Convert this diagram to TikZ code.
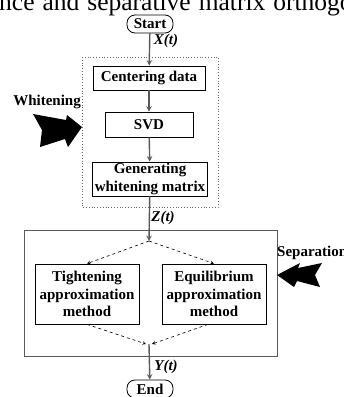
\documentclass[tikz,border=0pt]{standalone}
\usepackage{fontspec}
\setmainfont{Liberation Serif}
\usepackage{tikz}

\tikzset{
  block/.style={draw=black, line width=0.8pt, fill=white, align=center, inner sep=0pt,
    font=\fontsize{15}{17.5}\selectfont\bfseries},
  term/.style={block, rounded corners=8pt, minimum width=46pt, minimum height=18pt},
  tlabel/.style={inner sep=0pt, font=\fontsize{15}{17}\selectfont\bfseries\itshape},
  side/.style={inner sep=0pt, font=\fontsize{15}{17}\selectfont\bfseries},
  flow/.style={->, >=stealth, draw=black!65, line width=1.4pt},
  dflow/.style={->, >=stealth, draw=black, dashed, line width=0.6pt}
}

\begin{document}
\begin{tikzpicture}[x=1pt, y=-1pt]
\useasboundingbox (0,0) rectangle (344,397);
\clip (0,0) rectangle (344,397);
% line of the page above the figure
\node [anchor=base west, inner sep=0pt, font=\fontsize{25.5}{26}\selectfont] (pageline) at (-1,10) {\spaceskip=8pt nce and separative matrix orthogo};

% stage frames
\draw [dotted, draw=black!60, line width=0.8pt] (82,57) rectangle (218,207);
\draw [draw=black!65, line width=0.8pt] (24,230) rectangle (277,356);

\node [term] (start) at (150,24) {Start};
\node [block, minimum width=112pt, minimum height=24pt] (center) at (149,78) {Centering data};
\node [block, minimum width=88pt, minimum height=25pt] (svd) at (149,124.5) {SVD};
\node [block, minimum width=115pt, minimum height=34pt] (gen) at (150,179) {Generating\\whitening matrix};
\coordinate (split) at (149,241);
\node [block, minimum width=104pt, minimum height=60pt] (tight) at (87,294) {Tightening\\approximation\\method};
\node [block, minimum width=104pt, minimum height=60pt] (equi) at (214,294) {Equilibrium\\approximation\\method};
\coordinate (merge) at (149,344);
\node [term] (end) at (150,389) {End};

\node [tlabel] (xt) at (166,41) {X(t)};
\node [tlabel] (zt) at (163,218) {Z(t)};
\node [tlabel] (yt) at (166,367) {Y(t)};

\draw [flow] (start) -- (center);
\draw [flow] (center) -- (svd);
\draw [flow] (svd) -- (gen);
\draw [flow] (gen) -- (split);
\draw [dflow] (split) -- (tight.north);
\draw [dflow] (split) -- (equi.north);
\draw [dflow] (tight.south) -- ([xshift=-3pt]merge);
\draw [dflow] ([xshift=-6pt]equi.south) -- ([xshift=3pt]merge);
\draw [flow] (merge) -- (end);

% side labels and block arrows
\node [side, anchor=east] (whiten) at (81,102) {Whitening};
\fill (33,114) -- (66,120) -- (67,115) -- (82,127) -- (68,147) -- (65,139) -- (40,147) -- (42,130) -- cycle;
\node [side, anchor=west] (separ) at (277,253) {Separation};
\fill (277,275) -- (300,263) -- (298,268) -- (322,263) -- (315,275) -- (320,287) -- (297,281) -- (294,287) -- cycle;
\end{tikzpicture}
\end{document}
